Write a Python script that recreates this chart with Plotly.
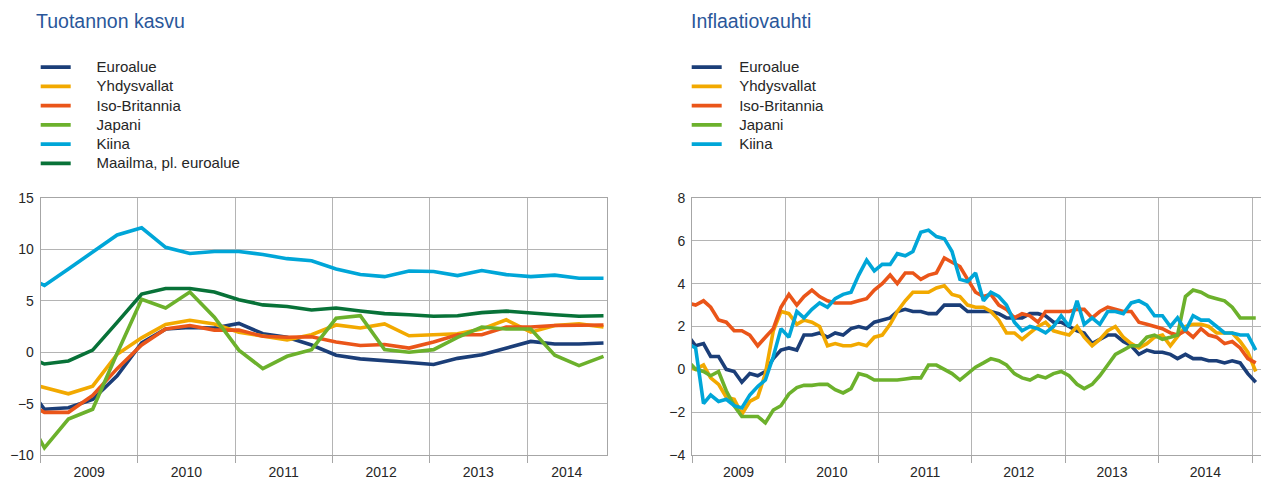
import pandas as pd
import plotly.graph_objects as go

# ---------------- data ----------------
names_left = ["Euroalue", "Yhdysvallat", "Iso-Britannia", "Japani", "Kiina", "Maailma, pl. euroalue"]
names_right = ["Euroalue", "Yhdysvallat", "Iso-Britannia", "Japani", "Kiina"]

# quarterly, 2008Q4 ... 2014Q4 (y/y %)
gdp_euro = [-2.3, -5.55, -5.4, -4.6, -2.3, 0.9, 2.25, 2.4, 2.35, 2.8, 1.8, 1.45, 0.7,
            -0.3, -0.65, -0.8, -1.0, -1.2, -0.6, -0.25, 0.4, 1.05, 0.8, 0.8, 0.9]
gdp_us = [-2.8, -3.4, -4.05, -3.3, -0.2, 1.4, 2.7, 3.1, 2.75, 1.95, 1.55, 1.2, 1.7,
          2.65, 2.35, 2.75, 1.6, 1.7, 1.8, 2.25, 3.15, 1.95, 2.6, 2.75, 2.45]
gdp_uk = [-4.5, -5.85, -5.85, -4.2, -1.6, 0.7, 2.25, 2.6, 2.15, 2.15, 1.55, 1.45, 1.5,
          1.0, 0.65, 0.75, 0.4, 1.0, 1.7, 1.7, 2.45, 2.45, 2.6, 2.65, 2.65]
gdp_japan = [-5.0, -9.3, -6.5, -5.55, -0.1, 5.15, 4.3, 5.85, 3.4, 0.2, -1.6, -0.4, 0.25,
             3.3, 3.55, 0.25, 0.0, 0.25, 1.45, 2.45, 2.25, 2.25, -0.3, -1.3, -0.4]
gdp_china = [7.6, 6.5, 8.1, 9.7, 11.4, 12.1, 10.2, 9.6, 9.8, 9.8, 9.5, 9.1, 8.9,
             8.1, 7.55, 7.35, 7.9, 7.85, 7.45, 7.95, 7.55, 7.35, 7.5, 7.2, 7.2]
gdp_world = [-0.05, -1.15, -0.85, 0.2, 2.9, 5.65, 6.2, 6.2, 5.85, 5.1, 4.6, 4.45, 4.1,
             4.3, 4.0, 3.75, 3.65, 3.5, 3.55, 3.85, 4.0, 3.8, 3.65, 3.5, 3.55]

# monthly, 2008-12 ... 2015-01 (y/y %)
cpi_euro = [1.6,
            1.1, 1.2, 0.6, 0.6, 0.0, -0.1, -0.6, -0.2, -0.3, -0.1, 0.5, 0.9,
            1.0, 0.9, 1.6, 1.6, 1.7, 1.5, 1.7, 1.6, 1.9, 2.0, 1.9, 2.2,
            2.3, 2.4, 2.7, 2.8, 2.7, 2.7, 2.6, 2.6, 3.0, 3.0, 3.0, 2.7,
            2.7, 2.7, 2.7, 2.6, 2.4, 2.4, 2.4, 2.6, 2.6, 2.5, 2.2, 2.2,
            2.0, 1.8, 1.7, 1.2, 1.4, 1.6, 1.6, 1.3, 1.1, 0.7, 0.9, 0.8,
            0.8, 0.7, 0.5, 0.7, 0.5, 0.5, 0.4, 0.4, 0.3, 0.4, 0.3, -0.2,
            -0.6]
cpi_us = [0.1,
          0.0, 0.2, -0.4, -0.7, -1.3, -1.4, -2.1, -1.5, -1.3, -0.2, 1.8, 2.7,
          2.6, 2.1, 2.3, 2.2, 2.0, 1.1, 1.2, 1.1, 1.1, 1.2, 1.1, 1.5,
          1.6, 2.1, 2.7, 3.2, 3.6, 3.6, 3.6, 3.8, 3.9, 3.5, 3.4, 3.0,
          2.9, 2.9, 2.7, 2.3, 1.7, 1.7, 1.4, 1.7, 2.0, 2.2, 1.8, 1.7,
          1.6, 2.0, 1.5, 1.1, 1.4, 1.8, 2.0, 1.5, 1.2, 1.0, 1.2, 1.5,
          1.6, 1.1, 1.5, 2.0, 2.1, 2.1, 2.0, 1.7, 1.7, 1.7, 1.3, 0.8,
          -0.1]
cpi_uk = [3.1,
          3.0, 3.2, 2.9, 2.3, 2.2, 1.8, 1.8, 1.6, 1.1, 1.5, 1.9, 2.9,
          3.5, 3.0, 3.4, 3.7, 3.4, 3.2, 3.1, 3.1, 3.1, 3.2, 3.3, 3.7,
          4.0, 4.4, 4.0, 4.5, 4.5, 4.2, 4.4, 4.5, 5.2, 5.0, 4.8, 4.2,
          3.6, 3.4, 3.5, 3.0, 2.8, 2.4, 2.6, 2.5, 2.2, 2.7, 2.7, 2.7,
          2.7, 2.8, 2.8, 2.4, 2.7, 2.9, 2.8, 2.7, 2.7, 2.2, 2.1, 2.0,
          1.9, 1.7, 1.6, 1.8, 1.5, 1.9, 1.6, 1.5, 1.2, 1.3, 1.0, 0.5,
          0.3]
cpi_japan = [0.4,
             0.0, -0.1, -0.3, -0.1, -1.0, -1.7, -2.2, -2.2, -2.2, -2.5, -1.9, -1.7,
             -1.15, -0.85, -0.75, -0.75, -0.7, -0.7, -0.95, -1.1, -0.9, -0.2, -0.3, -0.5,
             -0.5, -0.5, -0.5, -0.45, -0.4, -0.4, 0.2, 0.2, 0.0, -0.2, -0.5, -0.2,
             0.1, 0.3, 0.5, 0.4, 0.2, -0.2, -0.4, -0.5, -0.3, -0.4, -0.2, -0.1,
             -0.3, -0.7, -0.9, -0.7, -0.3, 0.2, 0.7, 0.9, 1.1, 1.1, 1.5, 1.6,
             1.4, 1.5, 1.6, 3.4, 3.7, 3.6, 3.4, 3.3, 3.2, 2.9, 2.4, 2.4,
             2.4]
cpi_china = [1.2,
             1.0, -1.6, -1.2, -1.5, -1.4, -1.7, -1.8, -1.2, -0.8, -0.5, 0.6, 1.9,
             1.5, 2.7, 2.4, 2.8, 3.1, 2.9, 3.3, 3.5, 3.6, 4.4, 5.1, 4.6,
             4.9, 4.9, 5.4, 5.3, 5.5, 6.4, 6.5, 6.2, 6.1, 5.5, 4.2, 4.1,
             4.5, 3.2, 3.6, 3.4, 3.0, 2.2, 1.8, 2.0, 1.9, 1.7, 2.0, 2.5,
             2.0, 3.2, 2.1, 2.4, 2.1, 2.7, 2.7, 2.6, 3.1, 3.2, 3.0, 2.5,
             2.5, 2.0, 2.4, 1.8, 2.5, 2.3, 2.3, 2.0, 1.7, 1.7, 1.6, 1.6,
             0.9]

year_labels_left = ["2009", "2010", "2011", "2012", "2013", "2014"]
year_label_pos_left = ["2009-07-02", "2010-07-02", "2011-07-02", "2012-07-02", "2013-07-02", "2014-05-30"]
year_lines_left = ["2009-01-01", "2010-01-01", "2011-01-01", "2012-01-01", "2013-01-01", "2014-01-01"]
year_labels_right = ["2009", "2010", "2011", "2012", "2013", "2014"]
year_label_pos_right = ["2009-07-02", "2010-07-02", "2011-07-02", "2012-07-02", "2013-07-02", "2014-07-02"]
year_lines_right = ["2009-01-01", "2010-01-01", "2011-01-01", "2012-01-01", "2013-01-01", "2014-01-01", "2015-01-01"]

quarters = pd.date_range("2008-10-01", periods=len(gdp_euro), freq="QS") + pd.Timedelta(days=14)
months = pd.date_range("2008-12-01", periods=len(cpi_euro), freq="MS") + pd.Timedelta(days=14)

# ---------------- style ----------------
FONT = "Liberation Sans, Arial, sans-serif"
TXT = "#262626"
GRID = "#b4b4b4"
LINE = "#a6a6a6"
TITLE = "#2a579a"
col = {"Euroalue": "#1b3e78", "Yhdysvallat": "#f2a900", "Iso-Britannia": "#ea5519",
       "Japani": "#6cb12c", "Kiina": "#00a6d8", "Maailma, pl. euroalue": "#087238"}
OFF = 8                      # page body margin of the browser
W, H = 1269 - OFF, 478 - OFF + 6
LW = 3.6


def px(x):
    return (x - OFF) / W


def py(y):
    return 1 - (y - OFF) / H


def legend_label(pad, n):
    return '<span style="font-size:15px">' + "\u00a0" * pad + n + "</span>"


fig = go.Figure()
for n, v in zip(names_left, [gdp_euro, gdp_us, gdp_uk, gdp_japan, gdp_china, gdp_world]):
    fig.add_trace(go.Scatter(x=quarters, y=v, mode="lines", name=legend_label(5, n),
                             line=dict(color=col[n], width=LW), xaxis="x", yaxis="y",
                             legend="legend"))
for n, v in zip(names_right, [cpi_euro, cpi_us, cpi_uk, cpi_japan, cpi_china]):
    fig.add_trace(go.Scatter(x=months, y=v, mode="lines", name=legend_label(3, n),
                             line=dict(color=col[n], width=LW), xaxis="x2", yaxis="y2",
                             legend="legend2"))


def xaxis(rng, dom, lab_pos, labs, lines):
    return dict(type="date", range=rng, domain=dom,
                showgrid=False, zeroline=False, showline=True, linecolor=LINE, linewidth=1,
                mirror=True, ticks="", tickmode="array", tickvals=lab_pos, ticktext=labs,
                tickfont=dict(family=FONT, size=14, color=TXT), ticklabelstandoff=4,
                minor=dict(tickmode="array", tickvals=lines, ticks="outside", ticklen=7,
                           tickcolor=LINE, tickwidth=1, showgrid=True, gridcolor=GRID,
                           gridwidth=1),
                automargin=False, fixedrange=True)


def yaxis(rng, dt, dom):
    return dict(range=rng, dtick=dt, tick0=0, domain=dom, showgrid=True, gridcolor=GRID,
                gridwidth=1, zeroline=False, showline=True, linecolor=LINE, linewidth=1,
                mirror=True, ticks="", tickfont=dict(family=FONT, size=14, color=TXT),
                ticklabelstandoff=3, automargin=False, fixedrange=True)


ydom = [py(455), py(198)]
fig.update_layout(
    width=W, height=H, margin=dict(l=0, r=0, t=0, b=0),
    paper_bgcolor="white", plot_bgcolor="white",
    font=dict(family=FONT, color=TXT),
    showlegend=True,
    xaxis={**xaxis(["2009-01-01", "2014-10-27"], [px(40.7), px(606.7)],
                   year_label_pos_left, year_labels_left, year_lines_left), "anchor": "y"},
    yaxis={**yaxis([-10, 15], 5, ydom), "anchor": "x"},
    xaxis2={**xaxis(["2009-01-01", "2015-02-28"], [px(692), px(1267)],
                    year_label_pos_right, year_labels_right, year_lines_right), "anchor": "y2"},
    yaxis2={**yaxis([-4, 8], 2, ydom), "anchor": "x2"},
    legend=dict(x=px(35.7), y=py(52.5), xanchor="left", yanchor="top",
                bgcolor="rgba(0,0,0,0)", borderwidth=0,
                font=dict(family=FONT, size=12.5, color=TXT), tracegroupgap=0),
    legend2=dict(x=px(686.7), y=py(52.5), xanchor="left", yanchor="top",
                 bgcolor="rgba(0,0,0,0)", borderwidth=0,
                 font=dict(family=FONT, size=12.5, color=TXT), tracegroupgap=0),
    annotations=[
        dict(text="Tuotannon kasvu", x=px(34), y=py(21), xref="paper", yref="paper",
             xanchor="left", yanchor="middle", showarrow=False,
             font=dict(family=FONT, size=19.5, color=TITLE)),
        dict(text="Inflaatiovauhti", x=px(688.5), y=py(21), xref="paper", yref="paper",
             xanchor="left", yanchor="middle", showarrow=False,
             font=dict(family=FONT, size=19.5, color=TITLE)),
    ],
)

fig.write_html("out.html")
